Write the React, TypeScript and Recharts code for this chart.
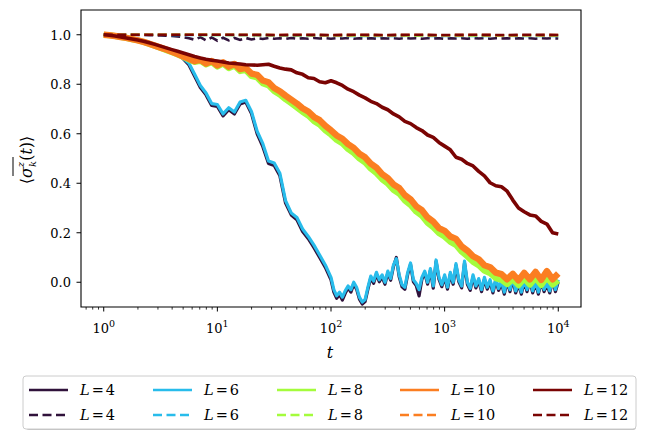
import React from 'react';
import { LineChart, Line, XAxis, YAxis, ReferenceArea } from 'recharts';

// log10(t) sampling points
const EXP_FINE = [
  0.0, 0.05, 0.1, 0.15, 0.2, 0.25, 0.3, 0.35, 0.4, 0.45,
  0.5, 0.55, 0.6, 0.65, 0.7, 0.75, 0.8, 0.85, 0.9, 0.95,
  1.0, 1.05, 1.1, 1.15, 1.2, 1.25, 1.3, 1.35, 1.4, 1.45,
  1.5, 1.55, 1.6, 1.65, 1.7, 1.75, 1.8, 1.85, 1.9, 1.95,
  2.0, 2.05, 2.1, 2.15, 2.2, 2.25, 2.3, 2.35, 2.4, 2.45,
  2.5, 2.55, 2.6, 2.65, 2.7, 2.75, 2.8, 2.85, 2.9, 2.95,
  3.0, 3.05, 3.1, 3.15, 3.2, 3.25, 3.3, 3.35, 3.4, 3.45,
  3.5, 3.55, 3.6, 3.65, 3.7, 3.75, 3.8, 3.85, 3.9, 3.95, 4.0,
];
// denser sampling of the noisy tail of the L=4 / L=6 curves
const EXP_TAIL = [
  2.0, 2.025, 2.05, 2.075, 2.1, 2.125, 2.15, 2.175, 2.2, 2.225,
  2.25, 2.275, 2.3, 2.325, 2.35, 2.375, 2.4, 2.425, 2.45, 2.475,
  2.5, 2.525, 2.55, 2.575, 2.6, 2.625, 2.65, 2.675, 2.7, 2.725,
  2.75, 2.775, 2.8, 2.825, 2.85, 2.875, 2.9, 2.925, 2.95, 2.975,
  3.0, 3.025, 3.05, 3.075, 3.1, 3.125, 3.15, 3.175, 3.2, 3.225,
  3.25, 3.275, 3.3, 3.325, 3.35, 3.375, 3.4, 3.425, 3.45, 3.475,
  3.5, 3.525, 3.55, 3.575, 3.6, 3.625, 3.65, 3.675, 3.7, 3.725,
  3.75, 3.775, 3.8, 3.825, 3.85, 3.875, 3.9, 3.925, 3.95, 3.975, 4.0,
];
const EXP_COARSE = [0, 0.25, 0.5, 0.75, 1, 1.25, 1.5, 1.75, 2, 2.25, 2.5, 2.75, 3, 3.25, 3.5, 3.75, 4];

// solid curves, L=4 and L=6: head on EXP_FINE (up to 1.95), tail on EXP_TAIL
const L4_HEAD = [
  1.0, 0.998, 0.995, 0.991, 0.987, 0.982, 0.977, 0.971, 0.964, 0.957,
  0.95, 0.944, 0.937, 0.926, 0.902, 0.878, 0.832, 0.787, 0.757, 0.714,
  0.71, 0.672, 0.697, 0.68, 0.72, 0.728, 0.682, 0.6, 0.548, 0.48,
  0.472, 0.43, 0.32, 0.272, 0.252, 0.205, 0.176, 0.14, 0.1, 0.06,
];
const L4_TAIL = [
  0.01, -0.04, -0.065, -0.05, -0.072, -0.045, -0.022, -0.04, -0.008, -0.028,
  -0.068, -0.088, -0.078, -0.028, 0.018, -0.004, 0.033, 0.002, 0.022, -0.008,
  0.038, 0.008, 0.064, 0.1, 0.022, -0.018, -0.028, 0.032, 0.072, 0.002,
  -0.013, -0.055, 0.012, 0.038, -0.008, 0.048, -0.024, 0.084, 0.012, -0.018,
  0.022, -0.028, 0.032, -0.008, 0.068, 0.002, -0.023, 0.078, -0.008, -0.033,
  0.022, -0.023, 0.007, -0.038, 0.012, -0.028, 0.002, -0.043, 0.007, -0.033,
  -0.003, -0.048, 0.002, -0.038, 0.012, -0.043, -0.008, -0.048, 0.002, -0.038,
  0.007, -0.043, -0.003, -0.048, 0.002, -0.038, -0.008, -0.043, 0.007, -0.038, 0.002,
];
const L6_HEAD = [
  1.0, 0.998, 0.995, 0.991, 0.987, 0.982, 0.977, 0.971, 0.964, 0.957,
  0.95, 0.944, 0.938, 0.928, 0.905, 0.885, 0.84, 0.795, 0.765, 0.722,
  0.718, 0.68, 0.705, 0.688, 0.728, 0.735, 0.69, 0.61, 0.56, 0.49,
  0.482, 0.44, 0.33, 0.28, 0.262, 0.215, 0.185, 0.15, 0.11, 0.07,
];
const L6_TAIL = [
  0.02, -0.03, -0.055, -0.04, -0.06, -0.035, -0.015, -0.03, 0.0, -0.02,
  -0.06, -0.08, -0.07, -0.02, 0.025, 0.005, 0.04, 0.01, 0.03, 0.0,
  0.045, 0.015, 0.07, 0.095, 0.03, -0.01, -0.02, 0.04, 0.078, 0.01,
  -0.005, -0.03, 0.02, 0.045, 0.0, 0.055, -0.015, 0.09, 0.02, -0.01,
  0.03, -0.02, 0.04, 0.0, 0.075, 0.01, -0.015, 0.085, 0.0, -0.025,
  0.03, -0.015, 0.015, -0.03, 0.02, -0.02, 0.01, -0.035, 0.015, -0.025,
  0.005, -0.04, 0.01, -0.03, 0.02, -0.035, 0.0, -0.04, 0.01, -0.03,
  0.015, -0.035, 0.005, -0.04, 0.01, -0.03, 0.0, -0.035, 0.015, -0.03, 0.01,
];
const L8_SOLID = [
  1.0, 0.998, 0.995, 0.991, 0.987, 0.982, 0.977, 0.971, 0.963, 0.955,
  0.947, 0.938, 0.929, 0.92, 0.91, 0.9, 0.89, 0.895, 0.88, 0.889,
  0.871, 0.883, 0.865, 0.875, 0.853, 0.857, 0.833, 0.827, 0.803, 0.795,
  0.772, 0.758, 0.739, 0.723, 0.706, 0.688, 0.673, 0.651, 0.637, 0.614,
  0.596, 0.575, 0.561, 0.538, 0.522, 0.5, 0.484, 0.459, 0.441, 0.416,
  0.398, 0.373, 0.358, 0.33, 0.312, 0.285, 0.268, 0.24, 0.222, 0.198,
  0.184, 0.163, 0.15, 0.123, 0.104, 0.082, 0.068, 0.046, 0.036, 0.016,
  0.01, -0.008, 0.012, -0.012, 0.015, -0.01, 0.018, -0.012, 0.02, -0.01, 0.008,
];
const L10_SOLID = [
  1.0, 0.998, 0.995, 0.991, 0.987, 0.982, 0.977, 0.971, 0.964, 0.956,
  0.948, 0.94, 0.931, 0.922, 0.912, 0.903, 0.893, 0.899, 0.884, 0.894,
  0.876, 0.889, 0.871, 0.882, 0.861, 0.866, 0.843, 0.838, 0.815, 0.808,
  0.785, 0.772, 0.754, 0.738, 0.722, 0.703, 0.69, 0.668, 0.655, 0.632,
  0.614, 0.593, 0.58, 0.558, 0.543, 0.519, 0.505, 0.479, 0.463, 0.437,
  0.421, 0.395, 0.381, 0.352, 0.335, 0.307, 0.291, 0.262, 0.245, 0.219,
  0.208, 0.185, 0.175, 0.145, 0.128, 0.105, 0.093, 0.069, 0.061, 0.039,
  0.033, 0.012, 0.034, 0.008, 0.038, 0.012, 0.042, 0.01, 0.045, 0.012, 0.035,
];
const L12_SOLID = [
  1.0, 0.998, 0.995, 0.991, 0.987, 0.983, 0.979, 0.974, 0.968, 0.961,
  0.954, 0.947, 0.94, 0.933, 0.926, 0.919, 0.912, 0.906, 0.901, 0.897,
  0.894, 0.89, 0.886, 0.884, 0.882, 0.879, 0.878, 0.877, 0.879, 0.881,
  0.873, 0.866, 0.861, 0.858, 0.846, 0.84, 0.826, 0.823, 0.81, 0.806,
  0.814, 0.806, 0.795, 0.78, 0.77, 0.756, 0.745, 0.731, 0.722, 0.707,
  0.697, 0.68, 0.668, 0.65, 0.641, 0.625, 0.613, 0.595, 0.585, 0.565,
  0.55, 0.535, 0.505, 0.497, 0.48, 0.47, 0.448, 0.43, 0.402, 0.39,
  0.386, 0.368, 0.332, 0.3, 0.285, 0.272, 0.268, 0.246, 0.235, 0.2, 0.195,
];

// dashed curves
const L4_DASHED = [
  1.0, 1.0, 1.0, 1.0, 1.0, 1.0, 0.999, 0.999, 0.998, 0.998,
  0.997, 0.996, 0.995, 0.993, 0.99, 0.986, 0.98, 0.99, 0.977, 0.989,
  0.976, 0.988, 0.977, 0.987, 0.979, 0.987, 0.981, 0.986, 0.983, 0.987,
  0.984, 0.986, 0.983, 0.987, 0.984, 0.986, 0.984, 0.987, 0.985, 0.986,
  0.984, 0.986, 0.985, 0.987, 0.984, 0.986, 0.985, 0.986, 0.984, 0.986,
  0.985, 0.986, 0.984, 0.987, 0.985, 0.986, 0.984, 0.986, 0.985, 0.986,
  0.984, 0.986, 0.985, 0.986, 0.984, 0.987, 0.985, 0.986, 0.984, 0.986,
  0.985, 0.986, 0.984, 0.986, 0.985, 0.986, 0.984, 0.986, 0.985, 0.986, 0.985,
];
const L6_DASHED = [1.0, 1.0, 1.0, 0.999, 0.999, 0.998, 0.997, 0.996, 0.996, 0.995, 0.995, 0.996, 0.995, 0.995, 0.996, 0.995, 0.995];
const L8_DASHED = [1.0, 1.0, 1.0, 1.0, 0.999, 0.999, 0.998, 0.998, 0.998, 0.997, 0.998, 0.997, 0.998, 0.997, 0.997, 0.998, 0.997];
const L10_DASHED = [1.0, 1.0, 1.0, 1.0, 1.0, 0.999, 0.999, 0.999, 0.998, 0.999, 0.998, 0.999, 0.998, 0.999, 0.998, 0.998, 0.999];
const L12_DASHED = [1.0, 1.0, 1.0, 1.0, 1.0, 1.0, 0.999, 1.0, 0.999, 1.0, 0.999, 1.0, 0.999, 1.0, 0.999, 1.0, 0.999];

const SIZES = ['4', '6', '8', '10', '12'];
const COLORS = ['#30123b', '#28bceb', '#a4fc3c', '#fb7e21', '#7a0403'];

const X_MAJOR = [1, 10, 100, 1000, 10000];
const X_MINOR = [
  0.7, 0.8, 0.9,
  2, 3, 4, 5, 6, 7, 8, 9,
  20, 30, 40, 50, 60, 70, 80, 90,
  200, 300, 400, 500, 600, 700, 800, 900,
  2000, 3000, 4000, 5000, 6000, 7000, 8000, 9000,
];
const Y_TICKS = [0, 0.2, 0.4, 0.6, 0.8, 1.0];
const X_DOMAIN = [Math.pow(10, -0.2), Math.pow(10, 4.2)];
const Y_DOMAIN = [-0.1, 1.1];

const toRows = (exps: number[], vals: number[]) =>
  exps.map((e, i) => ({ t: Math.pow(10, e), v: vals[i] }));

const SOLID_ROWS = [
  [...toRows(EXP_FINE.slice(0, 40), L4_HEAD), ...toRows(EXP_TAIL, L4_TAIL)],
  [...toRows(EXP_FINE.slice(0, 40), L6_HEAD), ...toRows(EXP_TAIL, L6_TAIL)],
  toRows(EXP_FINE, L8_SOLID),
  toRows(EXP_FINE, L10_SOLID),
  toRows(EXP_FINE, L12_SOLID),
];
const DASHED_ROWS = [
  toRows(EXP_FINE, L4_DASHED),
  toRows(EXP_COARSE, L6_DASHED),
  toRows(EXP_COARSE, L8_DASHED),
  toRows(EXP_COARSE, L10_DASHED),
  toRows(EXP_COARSE, L12_DASHED),
];
const SOLID_WIDTH = [3.2, 3.2, 6, 6.4, 3.6];

const FONT = 'DejaVu Serif';
const DASH = '9 4.5';

const XTick = (props: any) => {
  const { x, y, payload } = props;
  const major = X_MAJOR.includes(payload.value);
  if (!major) {
    return <line x1={x} x2={x} y1={y} y2={y + 2.6} stroke="#000" strokeWidth={0.8} />;
  }
  const exp = Math.round(Math.log10(payload.value));
  return (
    <g>
      <line x1={x} x2={x} y1={y} y2={y + 4.5} stroke="#000" strokeWidth={1} />
      <text x={x} y={y + 26} textAnchor="middle" fontFamily={FONT} fontSize={13} fill="#000">
        10<tspan fontSize={9.5} dy={-6}>{exp}</tspan>
      </text>
    </g>
  );
};

const YTick = (props: any) => {
  const { x, y, payload } = props;
  return (
    <g>
      <line x1={x} x2={x - 4.5} y1={y} y2={y} stroke="#000" strokeWidth={1} />
      <text x={x - 10} y={y + 5} textAnchor="end" fontFamily={FONT} fontSize={13} fill="#000">
        {payload.value.toFixed(1)}
      </text>
    </g>
  );
};

const LEGEND_COLS = [29, 153, 277, 400, 533];

const LegendLabel = ({ x, y, s }: { x: number; y: number; s: string }) => (
  <text x={x} y={y}>
    <tspan fontStyle="italic">L</tspan>
    <tspan dx={2}>=</tspan>
    <tspan dx={2}>{s}</tspan>
  </text>
);

const Overlay = () => (
  <svg width={647} height={433} style={{ position: 'absolute', left: 0, top: 0, pointerEvents: 'none' }}>
    {/* y label */}
    <g transform="rotate(-90)" fontFamily={FONT} fill="#000">
      <text x={-160} y={32} textAnchor="middle" fontSize={16}>
        ⟨<tspan fontStyle="italic">σ</tspan>
        <tspan fontStyle="italic" fontSize={10} dy={-8}>z</tspan>
        <tspan fontStyle="italic" fontSize={10} dx={-5} dy={12}>k</tspan>
        <tspan dy={-4}>(</tspan>
        <tspan fontStyle="italic">t</tspan>)⟩
      </text>
      <line x1={-176} x2={-157} y1={13} y2={13} stroke="#000" strokeWidth={1} />
    </g>
    {/* x label */}
    <text x={330} y={358} textAnchor="middle" fontFamily={FONT} fontStyle="italic" fontSize={16} fill="#000">t</text>
    {/* legend */}
    <rect x={26} y={379} width={610} height={51} rx={3} fill="#000" fillOpacity={0.25} />
    <rect x={23} y={376} width={613} height={53} rx={3} fill="#fff" stroke="#cccccc" strokeWidth={1} />
    {SIZES.map((s, i) => (
      <g key={s} fontFamily={FONT} fontSize={14.5} fill="#000">
        <line x1={LEGEND_COLS[i]} x2={LEGEND_COLS[i] + 39} y1={390} y2={390} stroke={COLORS[i]} strokeWidth={2.6} />
        <LegendLabel x={LEGEND_COLS[i] + 51} y={395} s={s} />
        <line x1={LEGEND_COLS[i]} x2={LEGEND_COLS[i] + 39} y1={415} y2={415} stroke={COLORS[i]} strokeWidth={2.6} strokeDasharray={DASH} />
        <LegendLabel x={LEGEND_COLS[i] + 51} y={420} s={s} />
      </g>
    ))}
  </svg>
);

const App: React.FC = () => {
  const lines: React.ReactNode[] = [];
  SIZES.forEach((s, i) => {
    lines.push(
      <Line
        key={`s-${s}`}
        data={SOLID_ROWS[i]}
        dataKey="v"
        stroke={COLORS[i]}
        strokeWidth={SOLID_WIDTH[i]}
        strokeLinejoin="round"
        dot={false}
        activeDot={false}
        isAnimationActive={false}
      />,
      <Line
        key={`d-${s}`}
        data={DASHED_ROWS[i]}
        dataKey="v"
        stroke={COLORS[i]}
        strokeWidth={2.6}
        strokeDasharray={DASH}
        dot={false}
        activeDot={false}
        isAnimationActive={false}
      />
    );
  });

  return (
    <div style={{ position: 'absolute', left: 0, top: 0, width: 647, height: 433, background: '#fff' }}>
      <LineChart width={647} height={433} margin={{ top: 10, right: 66, bottom: 0, left: 0 }}>
        <XAxis
          dataKey="t"
          type="number"
          scale="log"
          domain={X_DOMAIN}
          allowDataOverflow
          ticks={[...X_MINOR, ...X_MAJOR]}
          interval={0}
          tick={<XTick />}
          tickLine={false}
          tickSize={0}
          tickMargin={0}
          height={126}
          axisLine={false}
        />
        <YAxis
          type="number"
          domain={Y_DOMAIN}
          allowDataOverflow
          ticks={Y_TICKS}
          interval={0}
          tick={<YTick />}
          tickLine={false}
          tickSize={0}
          tickMargin={0}
          width={81}
          axisLine={false}
        />
        {lines}
        <ReferenceArea
          x1={X_DOMAIN[0]}
          x2={X_DOMAIN[1]}
          y1={Y_DOMAIN[0]}
          y2={Y_DOMAIN[1]}
          fill="none"
          fillOpacity={0}
          stroke="#000"
          strokeWidth={1.1}
          ifOverflow="visible"
        />
      </LineChart>
      <Overlay />
    </div>
  );
};

export default App;
